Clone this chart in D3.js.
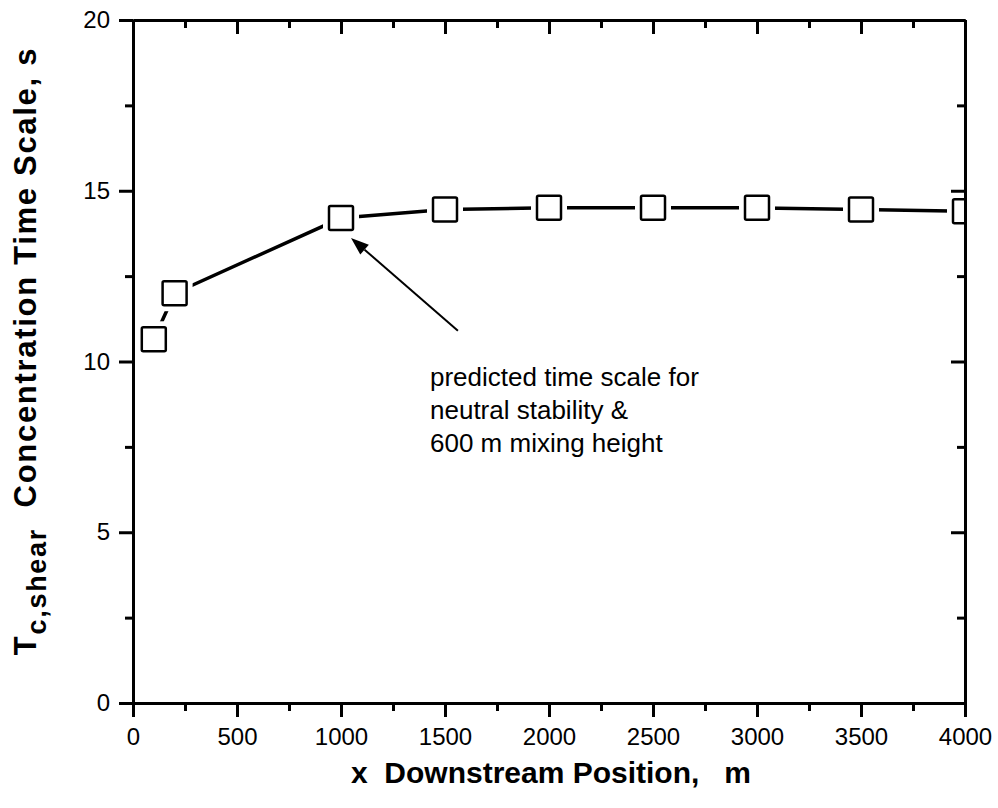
<!DOCTYPE html>
<html>
<head>
<meta charset="utf-8">
<script src="https://cdn.jsdelivr.net/npm/d3@7"></script>
<style>
  body { margin: 0; background: #fff; }
  svg { display: block; font-family: "Liberation Sans", Arial, sans-serif; }
</style>
</head>
<body>
<svg id="chart" width="998" height="808"></svg>
<script>
// ---------------- data ----------------
var positions = [100, 200, 1000, 1500, 2000, 2500, 3000, 3500, 4000];
var timeScales = [10.65, 12.0, 14.2, 14.45, 14.5, 14.5, 14.5, 14.45, 14.4];
var xTicks = [0, 500, 1000, 1500, 2000, 2500, 3000, 3500, 4000];
var yTicks = [0, 5, 10, 15, 20];
var noteLines = ["predicted time scale for", "neutral stability &", "600 m mixing height"];
// arrow in data units: [from, to]
var arrowFrom = [1562, 10.9];
var arrowTo = [1048, 13.62];

// ---------------- layout ----------------
var plotLeft = 133, plotRight = 965, plotTop = 20, plotBottom = 703;
var svg = d3.select('#chart');

var xScale = d3.scaleLinear().domain([0, 4000]).range([plotLeft, plotRight]);
var yScale = d3.scaleLinear().domain([0, 20]).range([plotBottom, plotTop]);

var xMinor = d3.range(0, 4001, 250).filter(d => d % 500 !== 0);
var yMinor = d3.range(0, 20.1, 2.5).filter(d => d % 5 !== 0);

svg.append('clipPath').attr('id', 'plotClip')
  .append('rect')
    .attr('x', plotLeft).attr('y', plotTop)
    .attr('width', plotRight - plotLeft).attr('height', plotBottom - plotTop);

// ---------------- data line + markers ----------------
var pts = positions.map((p, i) => [xScale(p), yScale(timeScales[i])]);
var plot = svg.append('g').attr('clip-path', 'url(#plotClip)');

plot.append('path')
  .datum(pts)
  .attr('d', d3.line())
  .attr('fill', 'none')
  .attr('stroke', '#000')
  .attr('stroke-width', 3.5);

var size = 24, gap = 6;
// white knock-outs so the line stops short of each square
plot.selectAll('rect.knock')
  .data(pts)
  .enter().append('rect')
    .classed('knock', true)
    .attr('x', d => d[0] - size / 2 - gap)
    .attr('y', d => d[1] - size / 2 - gap)
    .attr('width', size + 2 * gap)
    .attr('height', size + 2 * gap)
    .attr('fill', '#fff');

plot.selectAll('rect.mark')
  .data(pts)
  .enter().append('rect')
    .classed('mark', true)
    .attr('x', d => d[0] - size / 2)
    .attr('y', d => d[1] - size / 2)
    .attr('width', size)
    .attr('height', size)
    .attr('rx', 1.5)
    .attr('fill', '#fff')
    .attr('stroke', '#000')
    .attr('stroke-width', 2.5);

// ---------------- axes ----------------
function styleAxis(g) {
  g.select('.domain').attr('stroke-width', 3).attr('stroke', '#000');
  g.selectAll('.tick line').attr('stroke-width', 3).attr('stroke', '#000');
  g.selectAll('.tick text').attr('fill', '#000').style('font-size', '24px')
    .style('font-family', '"Liberation Sans", Arial, sans-serif');
}

// bottom (outward ticks, labelled)
svg.append('g').attr('transform', 'translate(0,' + plotBottom + ')')
  .call(d3.axisBottom(xScale).tickValues(xMinor).tickSize(8).tickSizeOuter(0).tickFormat(''))
  .call(styleAxis);
svg.append('g').attr('transform', 'translate(0,' + plotBottom + ')')
  .call(d3.axisBottom(xScale).tickValues(xTicks).tickSize(14).tickSizeOuter(0).tickPadding(11).tickFormat(d3.format('d')))
  .call(styleAxis);

// left
svg.append('g').attr('transform', 'translate(' + plotLeft + ',0)')
  .call(d3.axisLeft(yScale).tickValues(yMinor).tickSize(8).tickSizeOuter(0).tickFormat(''))
  .call(styleAxis);
svg.append('g').attr('transform', 'translate(' + plotLeft + ',0)')
  .call(d3.axisLeft(yScale).tickValues(yTicks).tickSize(14).tickSizeOuter(0).tickPadding(9).tickFormat(d3.format('d')))
  .call(styleAxis);

// top (inward ticks)
svg.append('g').attr('transform', 'translate(0,' + plotTop + ')')
  .call(d3.axisTop(xScale).tickValues(xMinor).tickSize(-8).tickSizeOuter(0).tickFormat(''))
  .call(styleAxis);
svg.append('g').attr('transform', 'translate(0,' + plotTop + ')')
  .call(d3.axisTop(xScale).tickValues(xTicks).tickSize(-14).tickSizeOuter(0).tickFormat(''))
  .call(styleAxis);

// right (inward ticks)
svg.append('g').attr('transform', 'translate(' + plotRight + ',0)')
  .call(d3.axisRight(yScale).tickValues(yMinor).tickSize(-8).tickSizeOuter(0).tickFormat(''))
  .call(styleAxis);
svg.append('g').attr('transform', 'translate(' + plotRight + ',0)')
  .call(d3.axisRight(yScale).tickValues(yTicks).tickSize(-14).tickSizeOuter(0).tickFormat(''))
  .call(styleAxis);

// ---------------- axis titles ----------------
svg.append('text')
  .attr('x', 551)
  .attr('y', 783)
  .attr('text-anchor', 'middle')
  .style('font-size', '30px')
  .style('font-weight', 'bold')
  .style('white-space', 'pre')
  .text('x  Downstream Position,   m');

var yTitle = svg.append('text')
  .attr('transform', 'translate(36,' + 351 + ') rotate(-90)')
  .attr('text-anchor', 'middle')
  .style('font-size', '31px')
  .style('font-weight', 'bold')
  .style('letter-spacing', '1.7px')
  .style('white-space', 'pre');
yTitle.append('tspan').text('T');
yTitle.append('tspan').attr('dy', 10).style('font-size', '27px').text('c,shear');
yTitle.append('tspan').attr('dy', -10).text('  Concentration Time Scale, s');

// ---------------- annotation ----------------
var note = svg.append('text')
  .style('font-size', '26px');
note.selectAll('tspan')
  .data(noteLines)
  .enter().append('tspan')
    .attr('x', 430)
    .attr('y', (d, i) => 386 + i * 33)
    .text(d => d);

var ax0 = xScale(arrowFrom[0]), ay0 = yScale(arrowFrom[1]);
var ax1 = xScale(arrowTo[0]), ay1 = yScale(arrowTo[1]);
var ang = Math.atan2(ay1 - ay0, ax1 - ax0);
var headLen = 18, headW = 6.5;
var bx = ax1 - headLen * Math.cos(ang), by = ay1 - headLen * Math.sin(ang);

svg.append('line')
  .attr('x1', ax0).attr('y1', ay0)
  .attr('x2', bx).attr('y2', by)
  .attr('stroke', '#000')
  .attr('stroke-width', 2);

svg.append('path')
  .attr('d', 'M' + ax1 + ',' + ay1 +
    'L' + (bx + headW * Math.sin(ang)) + ',' + (by - headW * Math.cos(ang)) +
    'L' + (bx - headW * Math.sin(ang)) + ',' + (by + headW * Math.cos(ang)) + 'Z')
  .attr('fill', '#000');
</script>
</body>
</html>
